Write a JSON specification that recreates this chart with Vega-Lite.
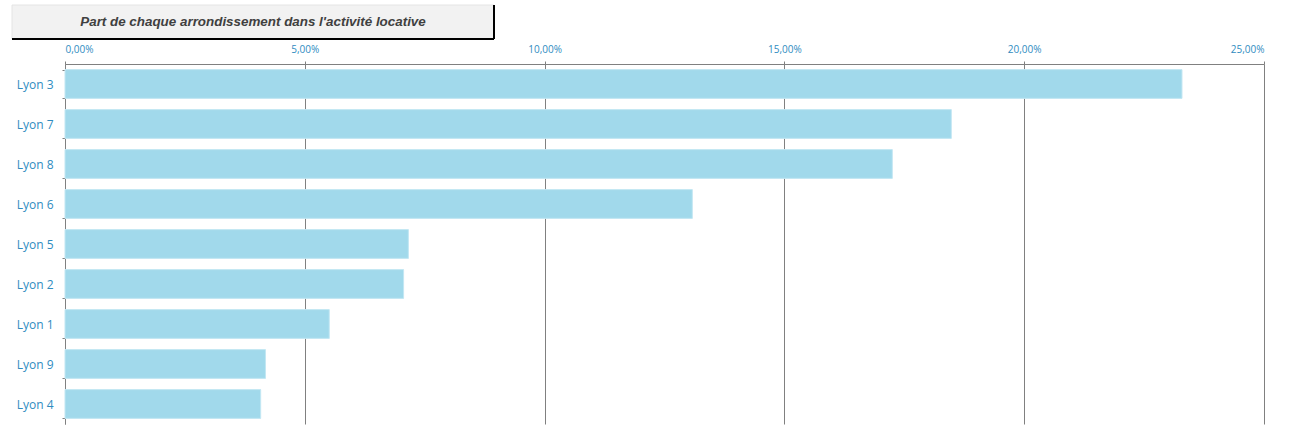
{
  "$schema": "https://vega.github.io/schema/vega-lite/v6.json",
  "background": "white",
  "padding": {"left": 11, "top": 4, "right": 5, "bottom": 5},
  "spacing": 4,
  "config": {"view": {"stroke": null}},
  "vconcat": [
    {
      "width": 482,
      "height": 34,
      "data": {"values": [{"title": "Part de chaque arrondissement dans l'activité locative"}]},
      "encoding": {
        "x": {"datum": 0, "type": "quantitative", "scale": {"domain": [0, 1], "range": [-53, 429]}, "axis": null},
        "y": {"datum": 0, "type": "quantitative", "scale": {"domain": [0, 1]}, "axis": null}
      },
      "layer": [
        {
          "mark": {"type": "rect", "fill": "#f2f2f2", "stroke": "#e4e4e4", "strokeWidth": 1},
          "encoding": {
            "x2": {"datum": 1},
            "y2": {"datum": 1}
          }
        },
        {
          "mark": {"type": "rule", "color": "#000000", "strokeWidth": 2},
          "encoding": {
            "x2": {"datum": 1}
          }
        },
        {
          "mark": {"type": "rule", "color": "#000000", "strokeWidth": 2},
          "encoding": {
            "x": {"datum": 1, "type": "quantitative"},
            "y2": {"datum": 1}
          }
        },
        {
          "mark": {"type": "text", "font": "Liberation Sans", "fontSize": 13.4, "fontWeight": "bold", "fontStyle": "italic", "color": "#404040", "align": "center", "baseline": "middle"},
          "encoding": {
            "text": {"field": "title", "type": "nominal"},
            "x": {"datum": 0.5, "type": "quantitative"},
            "y": {"datum": 0.5, "type": "quantitative"}
          }
        }
      ]
    },
    {
      "width": 1199,
      "height": 360,
      "data": {"values": [
        {"arrondissement": "Lyon 3", "part": 0.2329},
        {"arrondissement": "Lyon 7", "part": 0.1848},
        {"arrondissement": "Lyon 8", "part": 0.1725},
        {"arrondissement": "Lyon 6", "part": 0.1308},
        {"arrondissement": "Lyon 5", "part": 0.0716},
        {"arrondissement": "Lyon 2", "part": 0.0706},
        {"arrondissement": "Lyon 1", "part": 0.0551},
        {"arrondissement": "Lyon 9", "part": 0.0418},
        {"arrondissement": "Lyon 4", "part": 0.0408}
      ]},
      "mark": {"type": "bar", "color": "#a1d9eb", "stroke": "#c3e7f3", "strokeWidth": 1},
      "encoding": {
        "y": {"field": "arrondissement", "type": "nominal", "sort": null,
              "scale": {"paddingInner": 0.28, "paddingOuter": 0.14},
              "axis": {"title": null, "domainColor": "#808080", "tickColor": "#808080", "tickSize": 3, "tickBand": "extent",
                       "labelFont": "Open Sans", "labelFontSize": 12, "labelColor": "#2f8cbf", "labelPadding": 9}},
        "x": {"field": "part", "type": "quantitative",
              "scale": {"domain": [0, 0.25], "nice": false},
              "axis": {"orient": "top", "title": null, "values": [0, 0.05, 0.1, 0.15, 0.2, 0.25],
                       "labelExpr": "replace(format(datum.value, '.2%'), '.', ',')",
                       "domainColor": "#808080", "tickColor": "#808080", "tickSize": 3,
                       "grid": true, "gridColor": "#808080", "gridOpacity": 1,
                       "labelFont": "Open Sans", "labelFontSize": 10, "labelColor": "#2f8cbf", "labelPadding": 7}}
      }
    }
  ]
}
